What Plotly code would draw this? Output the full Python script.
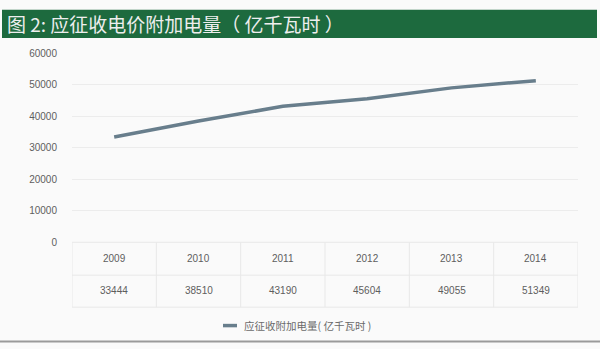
import plotly.graph_objects as go

years = ["2009", "2010", "2011", "2012", "2013", "2014"]
values = [33444, 38510, 43190, 45604, 49055, 51349]
yticks = [0, 10000, 20000, 30000, 40000, 50000, 60000]
title = "图 2: 应征收电价附加电量（ 亿千瓦时 ）"
series_name = "应征收附加电量( 亿千瓦时 )"

W, H = 600, 349
def py(p):
    return 1 - p / H

line_color = "#687e8c"
text_color = "#5e5e5e"
grid_color = "#ececec"

fig = go.Figure()
fig.add_trace(go.Scatter(x=list(range(len(years))), y=values, mode="lines",
                         line=dict(color=line_color, width=3.5), name=series_name,
                         showlegend=False))

x0p, x1p = 72 / W, 578 / W
fig.update_layout(
    width=W, height=H, margin=dict(l=0, r=0, t=0, b=0),
    paper_bgcolor="#fafafa", plot_bgcolor="#fafafa",
    font=dict(family="Noto Sans CJK SC, Liberation Sans, sans-serif", color=text_color, size=10),
    xaxis=dict(domain=[x0p, x1p], range=[-0.5, len(years) - 0.5], showgrid=False,
               showticklabels=False, zeroline=False, showline=False, fixedrange=True),
    yaxis=dict(domain=[py(245), py(50)], range=[0, 60000], tickvals=yticks,
               ticktext=[str(v) for v in yticks], showgrid=True, gridcolor=grid_color,
               gridwidth=1, zeroline=False, showline=False, ticks="", ticklabelstandoff=14,
               tickfont=dict(family="Liberation Sans, Arial, sans-serif", size=10, color=text_color)),
    showlegend=False,
)

shapes = []
# title band
shapes.append(dict(type="rect", xref="paper", yref="paper", x0=2 / W, x1=597 / W,
                   y0=py(34), y1=py(5), fillcolor="#1d6a3e", line=dict(width=0), layer="below"))
# table lines
tbl_top, tbl_mid, tbl_bot = 245, 279, 312
for yy in [tbl_top, tbl_mid, tbl_bot]:
    shapes.append(dict(type="line", xref="paper", yref="paper", x0=x0p, x1=x1p,
                       y0=py(yy), y1=py(yy), line=dict(color="#e8e8e8", width=1)))
for i in range(len(years) + 1):
    shapes.append(dict(type="line", xref="x", yref="paper", x0=i - 0.5, x1=i - 0.5,
                       y0=py(tbl_bot), y1=py(tbl_top), line=dict(color="#e8e8e8", width=1)))
# legend sample
shapes.append(dict(type="line", xref="paper", yref="paper", x0=223 / W, x1=237 / W,
                   y0=py(331), y1=py(331), line=dict(color=line_color, width=3.5)))
# bottom border
shapes.append(dict(type="line", xref="paper", yref="paper", x0=0, x1=1,
                   y0=py(347.5), y1=py(347.5), line=dict(color="#9a9a9a", width=2)))
fig.update_layout(shapes=shapes)

ann = []
ann.append(dict(text=title, xref="paper", yref="paper", x=5 / W, y=py(19.5), xanchor="left",
                yanchor="middle", showarrow=False,
                font=dict(size=19, color="#eeeeee", family="Noto Sans CJK SC, sans-serif")))
for i, (yr, v) in enumerate(zip(years, values)):
    ann.append(dict(text=yr, xref="x", yref="paper", x=i, y=py(262), showarrow=False,
                    xanchor="center", yanchor="middle",
                    font=dict(size=10, color=text_color, family="Liberation Sans, Arial, sans-serif")))
    ann.append(dict(text=str(v), xref="x", yref="paper", x=i, y=py(295), showarrow=False,
                    xanchor="center", yanchor="middle",
                    font=dict(size=10, color=text_color, family="Liberation Sans, Arial, sans-serif")))
ann.append(dict(text=series_name, xref="paper", yref="paper", x=242 / W, y=py(331),
                xanchor="left", yanchor="middle", showarrow=False,
                font=dict(size=10.5, color="#6a6a6a", family="Noto Sans CJK SC, sans-serif")))
fig.update_layout(annotations=ann)

fig.write_html("out.html")
